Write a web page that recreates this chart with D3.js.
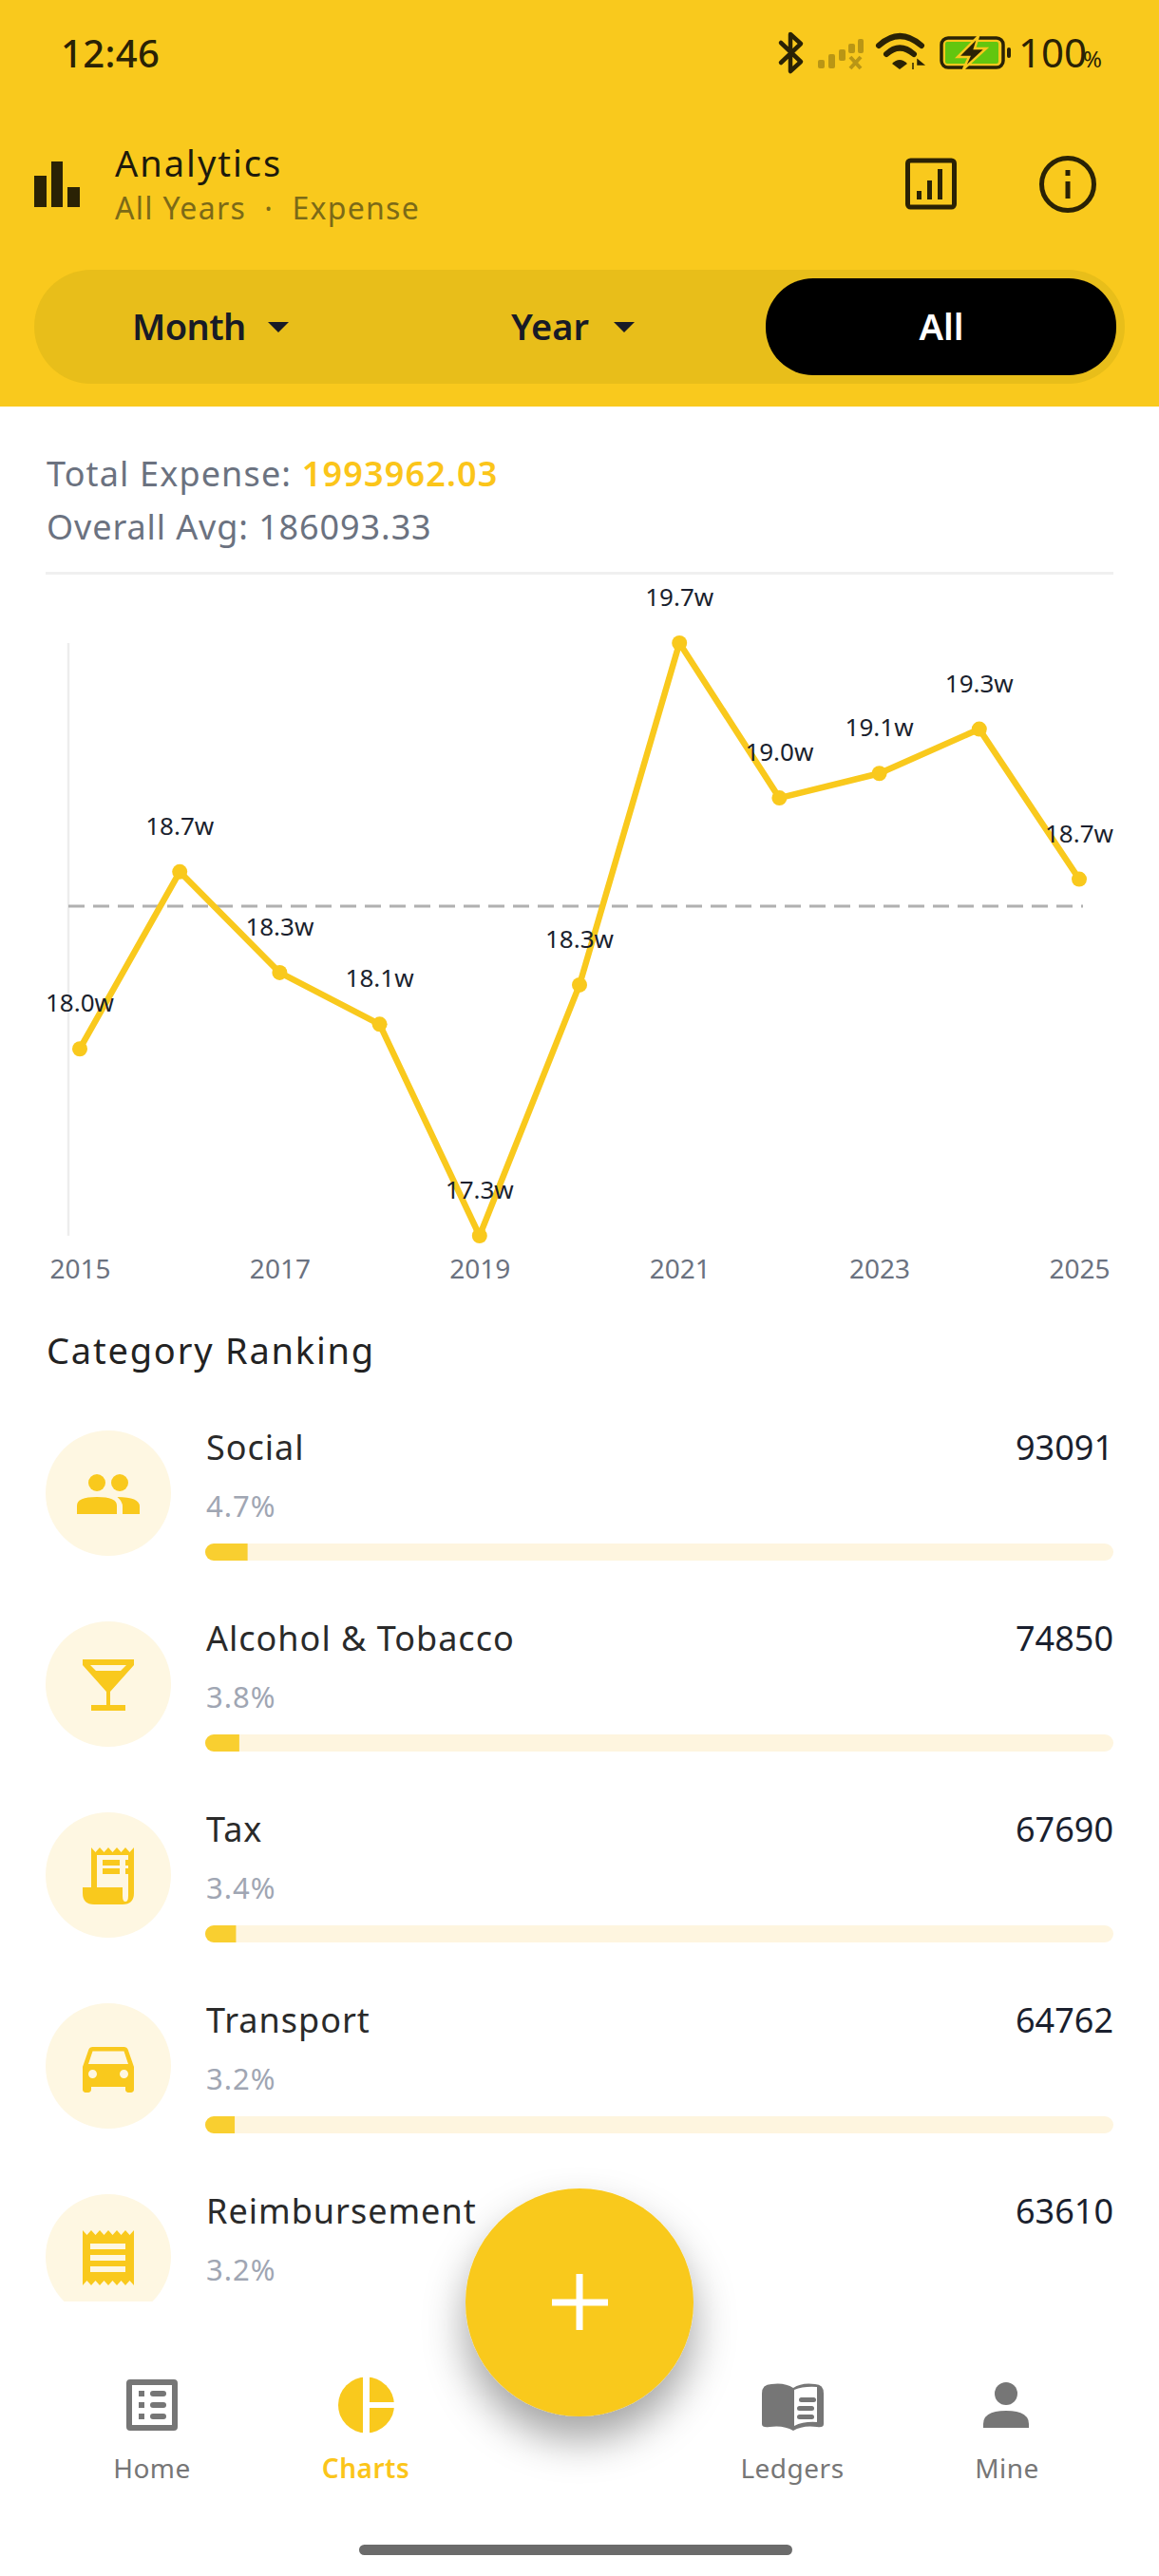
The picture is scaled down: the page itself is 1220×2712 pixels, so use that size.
<!DOCTYPE html>
<html><head><meta charset="utf-8">
<script src="https://cdn.jsdelivr.net/npm/d3@7"></script>
<style>html,body{margin:0;padding:0;background:#fff}svg{display:block}text{font-family:"Noto Sans",sans-serif}</style>
</head><body><div id="c"></div>
<script>
const years=[2015,2016,2017,2018,2019,2020,2021,2022,2023,2024,2025];
const yearlyExpense=[18.04,18.76,18.35,18.14,17.28,18.30,19.69,19.06,19.16,19.34,18.73];
const pointLabels=["18.0w","18.7w","18.3w","18.1w","17.3w","18.3w","19.7w","19.0w","19.1w","19.3w","18.7w"];
const tickYears=[2015,2017,2019,2021,2023,2025];
const averageExpense=18.62;
const totalExpense=1993962.03;
const categories=["Social","Alcohol & Tobacco","Tax","Transport","Reimbursement"];
const categoryValues=[93091,74850,67690,64762,63610];
const categoryPercents=["4.7%","3.8%","3.4%","3.2%","3.2%"];

const Y="#F9C91D",DK="#2A2205",W=1220,H=2712;
const svg=d3.select("#c").append("svg").attr("width",W).attr("height",H).attr("viewBox",`0 0 ${W} ${H}`);
const defs=svg.append("defs");
const f=defs.append("filter").attr("id","sh").attr("x","-50%").attr("y","-50%").attr("width","200%").attr("height","200%");
f.append("feDropShadow").attr("dx",0).attr("dy",24).attr("stdDeviation",22).attr("flood-color","#000").attr("flood-opacity",.36);
defs.append("clipPath").attr("id","rows").append("rect").attr("x",0).attr("y",428).attr("width",W).attr("height",1995);
const T=(g,s,x,y,size,fill,o={})=>g.append("text").text(s).attr("x",x).attr("y",y).attr("font-size",size).attr("fill",fill)
  .attr("font-weight",o.w||400).attr("text-anchor",o.a||"start").attr("letter-spacing",o.ls||null);

/* header */
const head=svg.append("g");
head.append("rect").attr("width",W).attr("height",428).attr("fill",Y);
T(head,"12:46",64,71,40,DK,{w:500,ls:.4});
const sb=head.append("g");
sb.append("path").attr("d","M822 45L843 65L832 75V36L843 46L822 66").attr("fill","none").attr("stroke",DK).attr("stroke-width",4.5).attr("stroke-linejoin","round").attr("stroke-linecap","round");
const sig=sb.append("g").attr("fill",DK).attr("opacity",.3);
[[861,63,7,9],[872,57,7,15],[883,52,7,12],[893,46,7,10],[903,41,6,15]].forEach(d=>sig.append("rect").attr("x",d[0]).attr("y",d[1]).attr("width",d[2]).attr("height",d[3]).attr("rx",2));
sig.append("path").attr("d","M895 60L906 72M906 60L895 72").attr("stroke",DK).attr("stroke-width",4).attr("fill","none");
const wf=sb.append("g").attr("fill","none").attr("stroke",DK).attr("stroke-width",6).attr("stroke-linecap","round");
wf.append("path").attr("d","M925 48Q947 28 970 48");
wf.append("path").attr("d","M933 57Q947 44 962 57");
sb.append("path").attr("d","M939 67Q947 59 955 67L947 73Z").attr("fill",DK);
sb.append("path").attr("d","M961 66V73M966 63L972 68H966Z").attr("stroke",DK).attr("stroke-width",1.5).attr("fill",DK);
sb.append("rect").attr("x",991).attr("y",40).attr("width",65).attr("height",31).attr("rx",7).attr("fill","none").attr("stroke",DK).attr("stroke-width",3.5);
sb.append("rect").attr("x",995).attr("y",44).attr("width",56).attr("height",23).attr("rx",2).attr("fill","#62C60F");
sb.append("path").attr("d","M1030 38L1008 60H1020L1014 73L1038 51H1026Z").attr("fill",DK).attr("stroke",Y).attr("stroke-width",2.5);
sb.append("rect").attr("x",1060).attr("y",50).attr("width",4).attr("height",11).attr("rx",2).attr("fill",DK);
T(sb,"100",1072,71,42,DK);
T(sb,"%",1140,71,24,DK);

const bars=head.append("g").attr("fill",DK);
[[36,185,13,33],[54,170,12,48],[71,197,13,21]].forEach(d=>bars.append("rect").attr("x",d[0]).attr("y",d[1]).attr("width",d[2]).attr("height",d[3]));
T(head,"Analytics",121,186,38,"#1d1a0c",{ls:2});
T(head,"All Years\u00a0\u00a0·\u00a0\u00a0Expense",121,231,32,"#7C6A17",{ls:1.3});
head.append("rect").attr("x",955.5).attr("y",169).attr("width",49).attr("height",49).attr("rx",3).attr("fill","none").attr("stroke",DK).attr("stroke-width",5);
[[965,201,5,9],[976,190,5,20],[987,178,5,32]].forEach(d=>head.append("rect").attr("x",d[0]).attr("y",d[1]).attr("width",d[2]).attr("height",d[3]).attr("fill",DK));
head.append("circle").attr("cx",1124).attr("cy",194).attr("r",27.5).attr("fill","none").attr("stroke",DK).attr("stroke-width",5);
head.append("rect").attr("x",1121.5).attr("y",191).attr("width",5).attr("height",18).attr("fill",DK);
head.append("rect").attr("x",1121.5).attr("y",179).attr("width",5).attr("height",6).attr("fill",DK);

head.append("rect").attr("x",36).attr("y",284).attr("width",1148).attr("height",120).attr("rx",60).attr("fill","#E8BE1A");
head.append("rect").attr("x",806).attr("y",293).attr("width",369).attr("height",102).attr("rx",50).attr("fill","#000");
T(head,"Month",139,358,38,"#181B26",{w:600,ls:-.6});
T(head,"Year",538,358,38,"#181B26",{w:600});
T(head,"All",991,358,38,"#fff",{w:600,a:"middle"});
const tri=x=>`M${x} 339H${x+22}L${x+11} 350Z`;
head.append("path").attr("d",tri(282)).attr("fill","#181B26");
head.append("path").attr("d",tri(646)).attr("fill","#181B26");

/* summary */
const sum=svg.append("g");
const t1=T(sum,"Total Expense: ",49,512,36,"#6B7280",{ls:1.15});
t1.append("tspan").text(d3.format(".2f")(totalExpense)).attr("fill","#FBC51A").attr("font-weight",600);
T(sum,"Overall Avg: 186093.33",49,568,36,"#6B7280",{ls:.9});
sum.append("rect").attr("x",48).attr("y",602).attr("width",1124).attr("height",3).attr("fill","#F0F0F0");

/* chart */
const ch=svg.append("g");
const x=d3.scalePoint().domain(years).range([84,1136]);
const y=d3.scaleLinear().domain([d3.min(yearlyExpense),d3.max(yearlyExpense)]).range([1301,677]);
ch.append("line").attr("x1",72).attr("x2",72).attr("y1",y.range()[1]).attr("y2",y.range()[0]).attr("stroke","#EDEDED").attr("stroke-width",2.5);
const ax=ch.append("g").attr("transform","translate(0,1346)").call(d3.axisBottom(x).tickValues(tickYears).tickSize(0).tickPadding(0).tickFormat(d3.format("d")));
ax.select(".domain").remove();
ax.selectAll("text").attr("font-size",28).attr("fill","#6B7280").attr("font-family",'"Noto Sans",sans-serif').attr("dy",0).attr("y",0);
ch.append("line").attr("x1",72).attr("x2",1140).attr("y1",y(averageExpense)).attr("y2",y(averageExpense)).attr("stroke","#B0B0B0").attr("stroke-width",3).attr("stroke-dasharray","17 9");
ch.append("path").attr("d",d3.line().x((d,i)=>x(years[i])).y(d=>y(d))(yearlyExpense)).attr("fill","none").attr("stroke",Y).attr("stroke-width",6.5).attr("stroke-linejoin","round");
ch.selectAll("circle").data(yearlyExpense).join("circle").attr("cx",(d,i)=>x(years[i])).attr("cy",d=>y(d)).attr("r",8).attr("fill",Y);
ch.selectAll("text.pl").data(yearlyExpense).join("text").attr("class","pl").attr("x",(d,i)=>x(years[i])).attr("y",d=>y(d)-39)
  .attr("text-anchor","middle").attr("font-size",26).attr("fill","#1A1F2E").text((d,i)=>pointLabels[i]);

/* ranking */
T(svg,"Category Ranking",49,1436,38,"#222",{ls:1.8});
const rows=svg.append("g").attr("clip-path","url(#rows)");
const rowY=d3.scalePoint().domain(categories).range([1572,2376]);
const w=d3.scaleLinear().domain([0,totalExpense]).range([0,956]);
const C="#FEF7E2";
const icons=[
 g=>{g.selectAll("c").data([-12,12]).join("circle").attr("cx",d=>d).attr("cy",-11).attr("r",9).attr("fill",Y);
   g.append("path").attr("d","M-33 22V13Q-33 4 -12 4Q9 4 9 13V22Z").attr("fill",Y);
   g.append("path").attr("d","M9.5 4Q33 4 33 14V22H15V14Q15 9 9.5 4Z").attr("fill",Y);},
 g=>{g.append("path").attr("d","M-27 -26H27V-20L2 8V22H18V28H-18V22H-2V8L-27 -20Z").attr("fill",Y);
   g.append("path").attr("d","M-19 -20H19L13 -14H-13Z").attr("fill",C);},
 g=>{let z="M-18 -29";for(let i=0;i<5;i++){z+=`l4.5 5l4.5 -5`;}
   g.append("path").attr("d",z+"V19Q27 31 15 31H-15Q-27 31 -27 19V13H-18Z").attr("fill",Y);
   g.append("path").attr("d","M-12 -21H21V22Q21 28 18 28Q15 28 15 22V13H-12Z").attr("fill",C);
   [[-6,-16,18,6],[18,-16,6,6],[-6,-7,18,6],[18,-7,6,6]].forEach(d=>g.append("rect").attr("x",d[0]).attr("y",d[1]).attr("width",d[2]).attr("height",d[3]).attr("fill",Y));},
 g=>{g.append("path").attr("transform","translate(-36,-35) scale(3)").attr("fill",Y).attr("d","M18.92 6.01C18.72 5.42 18.16 5 17.5 5h-11c-.66 0-1.21.42-1.42 1.01L3 12v8c0 .55.45 1 1 1h1c.55 0 1-.45 1-1v-1h12v1c0 .55.45 1 1 1h1c.55 0 1-.45 1-1v-8l-2.08-5.99zM6.5 16c-.83 0-1.5-.67-1.5-1.5S5.67 13 6.5 13s1.5.67 1.5 1.5S7.33 16 6.5 16zm11 0c-.83 0-1.5-.67-1.5-1.5s.67-1.5 1.5-1.5 1.5.67 1.5 1.5-.67 1.5-1.5 1.5zM5 11l1.5-4.5h11L19 11H5z");},
 g=>{let z="M-27 -28";for(let i=0;i<6;i++){z+=`l4.5 5l4.5 -5`;}z+="V30";for(let i=0;i<6;i++){z+=`l-4.5 -5l-4.5 5`;}
   g.append("path").attr("d",z+"Z").attr("fill",Y);
   [-14,-2,10].forEach(d=>g.append("rect").attr("x",-19).attr("y",d).attr("width",37).attr("height",6).attr("fill",C));}
];
categories.forEach((c,i)=>{
  const cy=rowY(c),g=rows.append("g");
  g.append("circle").attr("cx",114).attr("cy",cy).attr("r",66).attr("fill",C);
  icons[i](g.append("g").attr("transform",`translate(114,${cy})`));
  T(g,c,217,cy-35,36,"#2A2A2A",{ls:1});
  T(g,d3.format("d")(categoryValues[i]),1172,cy-35,36,"#1A1F2E",{a:"end"});
  T(g,categoryPercents[i],217,cy+25,31,"#A0A6B3",{ls:1});
  if(i<4){
    g.append("rect").attr("x",216).attr("y",cy+53).attr("width",956).attr("height",18).attr("rx",9).attr("fill","#FEF5DF");
    const bw=w(categoryValues[i]);
    g.append("path").attr("d",`M${216+bw} ${cy+53}H225A9 9 0 0 0 225 ${cy+71}H${216+bw}Z`).attr("fill","#F9CF30");
  }
});

/* nav */
const GR="#767676",nav=svg.append("g");
const hm=nav.append("g");
hm.append("rect").attr("x",136).attr("y",2508).attr("width",48).attr("height",48).attr("rx",1).attr("fill","none").attr("stroke",GR).attr("stroke-width",6);
[2517,2529,2541].forEach(d=>{hm.append("rect").attr("x",146).attr("y",d).attr("width",6).attr("height",6).attr("fill",GR);
  hm.append("rect").attr("x",158).attr("y",d).attr("width",17).attr("height",6).attr("rx",3).attr("fill",GR);});
nav.append("circle").attr("cx",385.5).attr("cy",2532).attr("r",29.5).attr("fill",Y);
nav.append("rect").attr("x",382).attr("y",2500).attr("width",7).attr("height",64).attr("fill","#fff");
nav.append("rect").attr("x",389).attr("y",2529).attr("width",30).attr("height",6).attr("fill","#fff");
nav.append("path").attr("fill",GR).attr("d","M802 2520Q802 2510 812 2510Q826 2508 835 2514Q844 2508 858 2510Q867 2510 867 2520V2552Q867 2556 860 2555Q845 2553 835 2559Q825 2553 810 2555Q802 2556 802 2552Z");
nav.append("path").attr("fill","#fff").attr("d","M836 2516Q846 2512 860 2513V2550Q846 2549 836 2554Z");
[[841,2525],[839,2534],[839,2543]].forEach(d=>nav.append("rect").attr("x",d[0]).attr("y",d[1]-1).attr("width",18).attr("height",5).attr("rx",2.5).attr("fill",GR));
nav.append("circle").attr("cx",1059).attr("cy",2520).attr("r",12).attr("fill",GR);
nav.append("path").attr("fill",GR).attr("d","M1035 2552Q1035 2538 1059 2538Q1083 2538 1083 2552V2556H1035Z");
[["Home",160,GR,400],["Charts",385,"#FBC51A",600],["Ledgers",834,GR,400],["Mine",1060,GR,400]].forEach(d=>T(nav,d[0],d[1],2609,28,d[2],{a:"middle",w:d[3],ls:.5}));
nav.append("rect").attr("x",378).attr("y",2679).attr("width",456).attr("height",11).attr("rx",5.5).attr("fill","#6B6B6B");

const fab=svg.append("g");
fab.append("circle").attr("cx",610).attr("cy",2424).attr("r",120).attr("fill",Y).attr("filter","url(#sh)");
fab.append("rect").attr("x",581).attr("y",2420.5).attr("width",59).attr("height",7).attr("fill","#fff");
fab.append("rect").attr("x",606.5).attr("y",2394).attr("width",7).attr("height",59).attr("fill","#fff");
</script></body></html>
